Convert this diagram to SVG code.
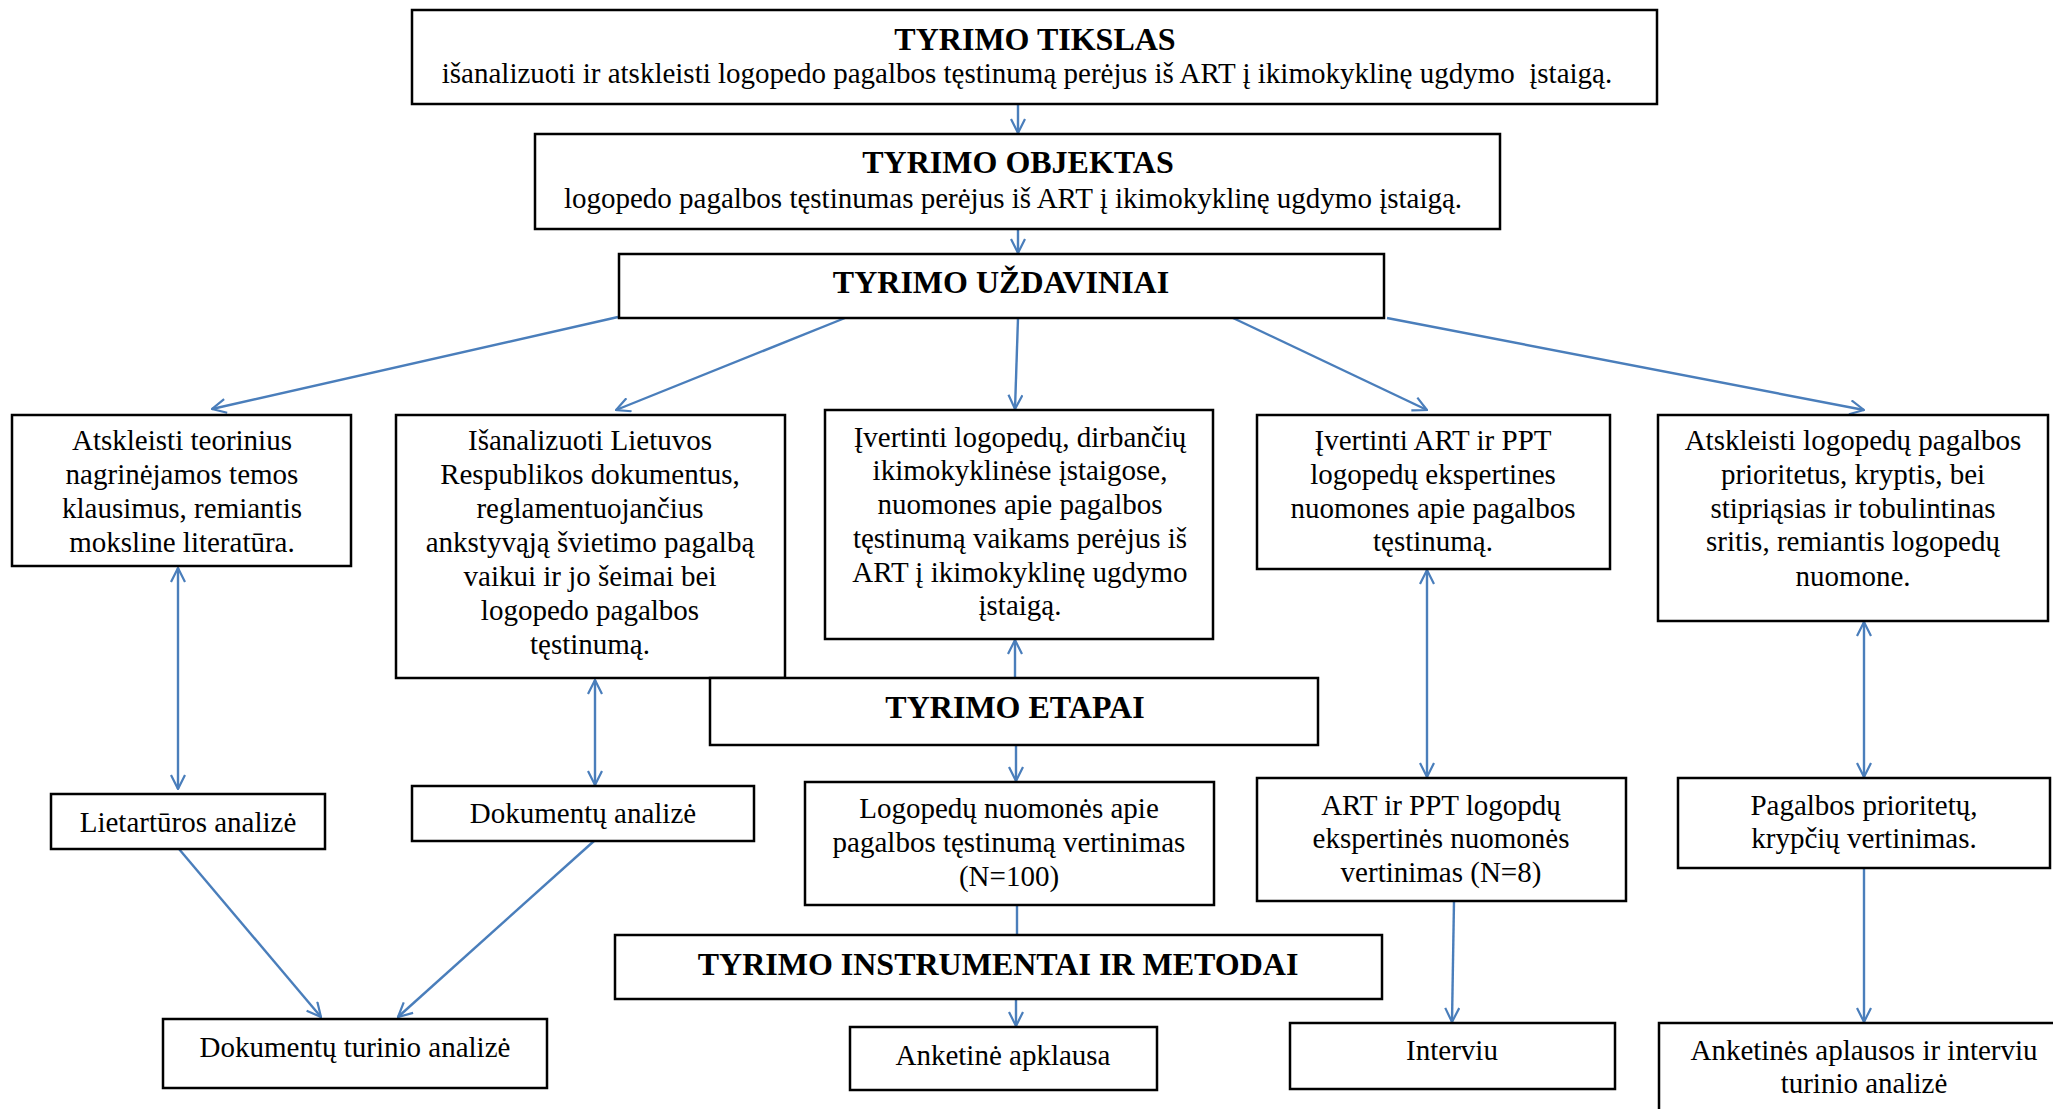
<svg xmlns="http://www.w3.org/2000/svg" width="2053" height="1109" viewBox="0 0 2053 1109" font-family="Liberation Serif, Times New Roman, serif">
<style>
.box{fill:#fff;stroke:#000;stroke-width:2.5}
.t{font-size:29px;fill:#000;text-anchor:middle}
.h{font-size:32px;font-weight:bold;fill:#000;text-anchor:middle}
.c{fill:none;stroke:#4a7ebb;stroke-width:2.4}
</style>
<defs>
<marker id="arr" viewBox="0 0 16 16" refX="15" refY="8" markerWidth="16" markerHeight="16" markerUnits="userSpaceOnUse" orient="auto-start-reverse">
<path d="M1,1 L15,8 L1,15" fill="none" stroke="#4a7ebb" stroke-width="2.2"/>
</marker>
</defs>
<rect width="2053" height="1109" fill="#fff"/>
<g id="connectors">
<line class="c" x1="1018" y1="104" x2="1018" y2="133" marker-end="url(#arr)"/>
<line class="c" x1="1018" y1="229" x2="1018" y2="253" marker-end="url(#arr)"/>
<line class="c" x1="618" y1="317" x2="212" y2="409" marker-end="url(#arr)"/>
<line class="c" x1="845" y1="318" x2="616" y2="410" marker-end="url(#arr)"/>
<line class="c" x1="1018" y1="318" x2="1015" y2="409" marker-end="url(#arr)"/>
<line class="c" x1="1233" y1="318" x2="1427" y2="410" marker-end="url(#arr)"/>
<line class="c" x1="1387" y1="318" x2="1864" y2="410" marker-end="url(#arr)"/>
<line class="c" x1="178" y1="568" x2="178" y2="789" marker-start="url(#arr)" marker-end="url(#arr)"/>
<line class="c" x1="595" y1="680" x2="595" y2="785" marker-start="url(#arr)" marker-end="url(#arr)"/>
<line class="c" x1="1427" y1="570" x2="1427" y2="777" marker-start="url(#arr)" marker-end="url(#arr)"/>
<line class="c" x1="1864" y1="622" x2="1864" y2="777" marker-start="url(#arr)" marker-end="url(#arr)"/>
<line class="c" x1="1015" y1="678" x2="1015" y2="640" marker-end="url(#arr)"/>
<line class="c" x1="1016" y1="745" x2="1016" y2="781" marker-end="url(#arr)"/>
<line class="c" x1="1017" y1="905" x2="1017" y2="935"/>
<line class="c" x1="1016" y1="999" x2="1016" y2="1026" marker-end="url(#arr)"/>
<line class="c" x1="179" y1="849" x2="321" y2="1017" marker-end="url(#arr)"/>
<line class="c" x1="594" y1="841" x2="398" y2="1017" marker-end="url(#arr)"/>
<line class="c" x1="1454" y1="901" x2="1452" y2="1022" marker-end="url(#arr)"/>
<line class="c" x1="1864" y1="868" x2="1864" y2="1022" marker-end="url(#arr)"/>
</g>
<g id="tikslas">
<rect class="box" x="412" y="10" width="1245" height="94"/>
<text class="h" x="1035" y="50">TYRIMO TIKSLAS</text>
<text class="t" x="1027" y="83" xml:space="preserve">išanalizuoti ir atskleisti logopedo pagalbos tęstinumą perėjus iš ART į ikimokyklinę ugdymo  įstaigą.</text>
</g>
<g id="objektas">
<rect class="box" x="535" y="134" width="965" height="95"/>
<text class="h" x="1018" y="173">TYRIMO OBJEKTAS</text>
<text class="t" x="1013" y="208">logopedo pagalbos tęstinumas perėjus iš ART į ikimokyklinę ugdymo įstaigą.</text>
</g>
<g id="uzdaviniai">
<rect class="box" x="619" y="254" width="765" height="64"/>
<text class="h" x="1001" y="293">TYRIMO UŽDAVINIAI</text>
</g>
<g id="task1">
<rect class="box" x="12" y="415" width="339" height="151"/>
<text class="t" x="182" y="450">Atskleisti teorinius</text>
<text class="t" x="182" y="484">nagrinėjamos temos</text>
<text class="t" x="182" y="518">klausimus, remiantis</text>
<text class="t" x="182" y="552">moksline literatūra.</text>
</g>
<g id="task2">
<rect class="box" x="396" y="415" width="389" height="263"/>
<text class="t" x="590" y="450">Išanalizuoti Lietuvos</text>
<text class="t" x="590" y="484">Respublikos dokumentus,</text>
<text class="t" x="590" y="518">reglamentuojančius</text>
<text class="t" x="590" y="552">ankstyvąją švietimo pagalbą</text>
<text class="t" x="590" y="586">vaikui ir jo šeimai bei</text>
<text class="t" x="590" y="620">logopedo pagalbos</text>
<text class="t" x="590" y="654">tęstinumą.</text>
</g>
<g id="task3">
<rect class="box" x="825" y="410" width="388" height="229"/>
<text class="t" x="1020" y="447">Įvertinti logopedų, dirbančių</text>
<text class="t" x="1020" y="480">ikimokyklinėse įstaigose,</text>
<text class="t" x="1020" y="514">nuomones apie pagalbos</text>
<text class="t" x="1020" y="548">tęstinumą vaikams perėjus iš</text>
<text class="t" x="1020" y="582">ART į ikimokyklinę ugdymo</text>
<text class="t" x="1020" y="615">įstaigą.</text>
</g>
<g id="task4">
<rect class="box" x="1257" y="415" width="353" height="154"/>
<text class="t" x="1433" y="450">Įvertinti ART ir PPT</text>
<text class="t" x="1433" y="484">logopedų ekspertines</text>
<text class="t" x="1433" y="518">nuomones apie pagalbos</text>
<text class="t" x="1433" y="551">tęstinumą.</text>
</g>
<g id="task5">
<rect class="box" x="1658" y="415" width="390" height="206"/>
<text class="t" x="1853" y="450">Atskleisti logopedų pagalbos</text>
<text class="t" x="1853" y="484">prioritetus, kryptis, bei</text>
<text class="t" x="1853" y="518">stipriąsias ir tobulintinas</text>
<text class="t" x="1853" y="551">sritis, remiantis logopedų</text>
<text class="t" x="1853" y="586">nuomone.</text>
</g>
<g id="etapai">
<rect class="box" x="710" y="678" width="608" height="67"/>
<text class="h" x="1015" y="718">TYRIMO ETAPAI</text>
</g>
<g id="lit-analize">
<rect class="box" x="51" y="794" width="274" height="55"/>
<text class="t" x="188" y="832">Lietartūros analizė</text>
</g>
<g id="dok-analize">
<rect class="box" x="412" y="786" width="342" height="55"/>
<text class="t" x="583" y="823">Dokumentų analizė</text>
</g>
<g id="logopedu-vertinimas">
<rect class="box" x="805" y="782" width="409" height="123"/>
<text class="t" x="1009" y="818">Logopedų nuomonės apie</text>
<text class="t" x="1009" y="852">pagalbos tęstinumą vertinimas</text>
<text class="t" x="1009" y="886">(N=100)</text>
</g>
<g id="art-ppt-vertinimas">
<rect class="box" x="1257" y="778" width="369" height="123"/>
<text class="t" x="1441" y="815">ART ir PPT logopdų</text>
<text class="t" x="1441" y="848">ekspertinės nuomonės</text>
<text class="t" x="1441" y="882">vertinimas (N=8)</text>
</g>
<g id="pagalbos-vertinimas">
<rect class="box" x="1678" y="778" width="372" height="90"/>
<text class="t" x="1864" y="815">Pagalbos prioritetų,</text>
<text class="t" x="1864" y="848">krypčių vertinimas.</text>
</g>
<g id="instrumentai">
<rect class="box" x="615" y="935" width="767" height="64"/>
<text class="h" x="998" y="975">TYRIMO INSTRUMENTAI IR METODAI</text>
</g>
<g id="dok-turinio">
<rect class="box" x="163" y="1019" width="384" height="69"/>
<text class="t" x="355" y="1057">Dokumentų turinio analizė</text>
</g>
<g id="anketine">
<rect class="box" x="850" y="1027" width="307" height="63"/>
<text class="t" x="1003" y="1065">Anketinė apklausa</text>
</g>
<g id="interviu">
<rect class="box" x="1290" y="1023" width="325" height="66"/>
<text class="t" x="1452" y="1060">Interviu</text>
</g>
<g id="turinio-analize">
<rect class="box" x="1659" y="1023" width="410" height="110"/>
<text class="t" x="1864" y="1060">Anketinės aplausos ir interviu</text>
<text class="t" x="1864" y="1093">turinio analizė</text>
</g>
</svg>
